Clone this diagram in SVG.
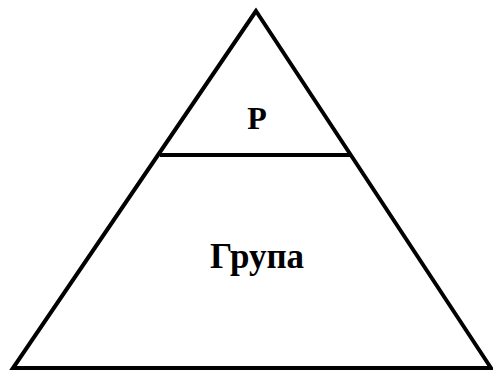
<svg xmlns="http://www.w3.org/2000/svg" width="493" height="372" viewBox="0 0 493 372">
<style>
.ln{fill:none;stroke:#000;stroke-width:4;stroke-linejoin:miter}
.t{font-family:"Liberation Serif","Times New Roman",serif;font-weight:bold;fill:#000;text-anchor:middle}
</style>
<rect width="493" height="372" fill="#fff"/>
<g id="pyramid">
<polygon class="ln" points="256,11 13,368 491,368"/>
<line class="ln" x1="160" y1="155" x2="351" y2="155" stroke-width="3.5"/>
</g>
<g id="top"><text class="t" x="257" y="129" font-size="32">Р</text></g>
<g id="bottom"><text class="t" x="257" y="268" font-size="35">Група</text></g>
</svg>
